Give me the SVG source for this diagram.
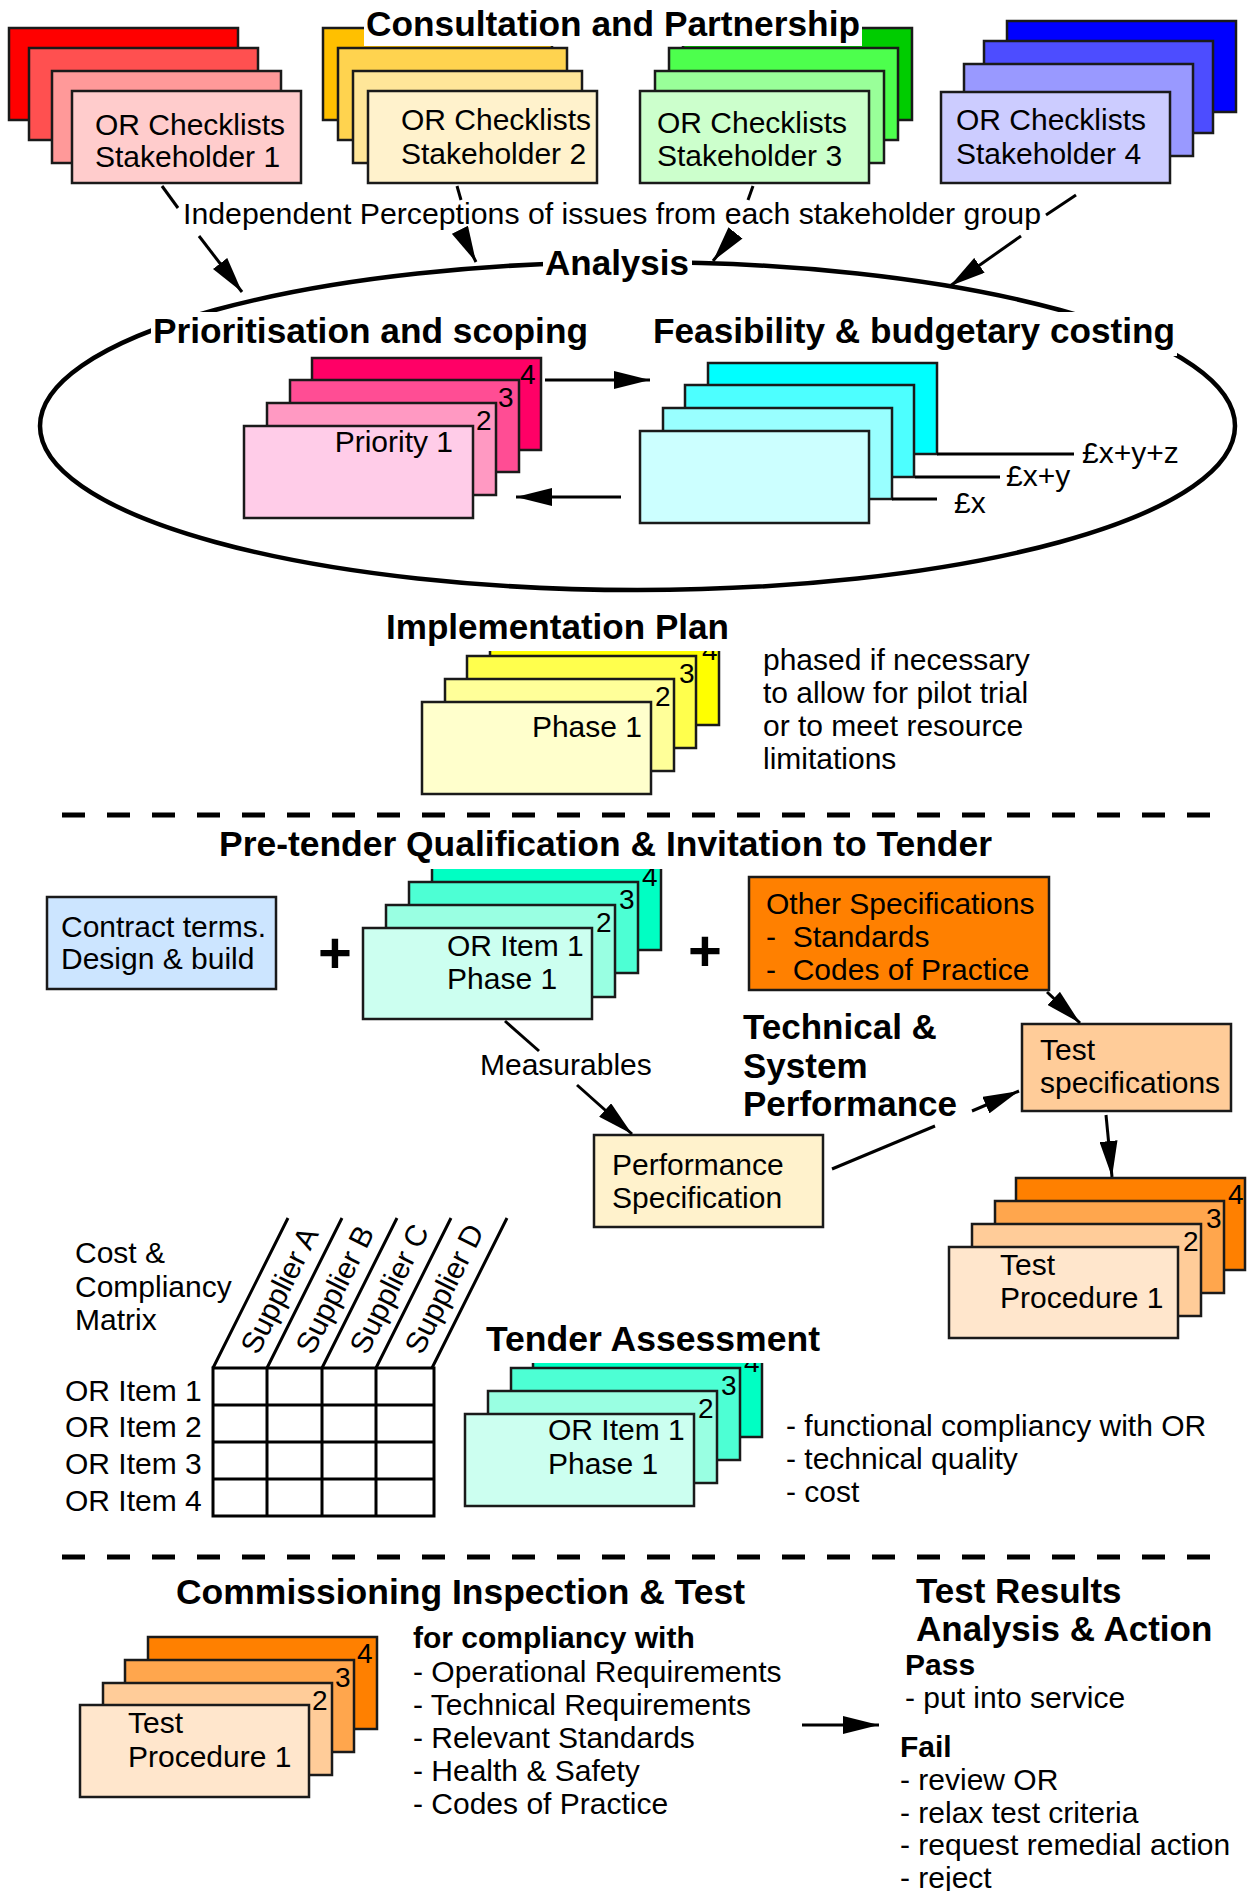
<svg xmlns="http://www.w3.org/2000/svg" width="1249" height="1891" viewBox="0 0 1249 1891">
<style>
.b{stroke:#1a1a1a;stroke-width:2.5}
text{font-family:"Liberation Sans",Arial,Helvetica,sans-serif;font-size:30px;fill:#000}
.n{font-size:28px}
.h{font-weight:bold;font-size:35px}
.hb{font-weight:bold;font-size:30px}
.plus{font-weight:bold;font-size:58px}
.c{stroke:#000;stroke-width:3;fill:none}
.bg{fill:#fff}
.dash{stroke:#000;stroke-width:5;stroke-dasharray:23 22;fill:none}
.grid{stroke:#000;stroke-width:3;fill:none}
</style>
<defs>
<marker id="ah" markerUnits="userSpaceOnUse" markerWidth="38" markerHeight="18" refX="36" refY="9" orient="auto"><path d="M0,0 L36,9 L0,18 z" fill="#000"/></marker>
</defs>
<rect width="1249" height="1891" fill="#fff"/>

<g id="stakeholder1">
<rect class="b" x="9" y="28" width="229" height="92" fill="#FF0000"/>
<rect class="b" x="29" y="48" width="229" height="92" fill="#FF5050"/>
<rect class="b" x="52" y="71" width="229" height="92" fill="#FF9999"/>
<rect class="b" x="72" y="91" width="229" height="92" fill="#FFCCCC"/>
<text x="95" y="135">OR Checklists</text>
<text x="95" y="167">Stakeholder 1</text>
</g>
<g id="stakeholder2">
<rect class="b" x="323" y="28" width="229" height="92" fill="#FFC000"/>
<rect class="b" x="338" y="48" width="229" height="92" fill="#FFD34F"/>
<rect class="b" x="353" y="71" width="229" height="92" fill="#FFE699"/>
<rect class="b" x="368" y="91" width="229" height="92" fill="#FFF2CC"/>
<text x="401" y="130">OR Checklists</text>
<text x="401" y="164">Stakeholder 2</text>
</g>
<g id="stakeholder3">
<rect class="b" x="683" y="28" width="229" height="92" fill="#00CC00"/>
<rect class="b" x="669" y="48" width="229" height="92" fill="#4DFF4D"/>
<rect class="b" x="655" y="71" width="229" height="92" fill="#99FF99"/>
<rect class="b" x="640" y="91" width="229" height="92" fill="#CCFFCC"/>
<text x="657" y="133">OR Checklists</text>
<text x="657" y="166">Stakeholder 3</text>
</g>
<g id="stakeholder4">
<rect class="b" x="1007" y="21" width="229" height="91" fill="#0000FF"/>
<rect class="b" x="984" y="41" width="229" height="92" fill="#4D4DFF"/>
<rect class="b" x="964" y="64" width="229" height="92" fill="#9999FF"/>
<rect class="b" x="941" y="92" width="229" height="91" fill="#CCCCFF"/>
<text x="956" y="130">OR Checklists</text>
<text x="956" y="164">Stakeholder 4</text>
</g>

<g id="analysis-ellipse">
<ellipse cx="637.5" cy="426" rx="597.5" ry="164" fill="none" stroke="#000" stroke-width="4.5"/>
</g>

<g id="priority-stack">
<rect class="b" x="312" y="358" width="229" height="92" fill="#FF0066"/>
<rect class="b" x="290" y="380" width="229" height="92" fill="#FF4D94"/>
<rect class="b" x="267" y="403" width="229" height="92" fill="#FF99C2"/>
<rect class="b" x="244" y="426" width="229" height="92" fill="#FFCCE8"/>
<text class="n" x="520" y="384">4</text>
<text class="n" x="498" y="407">3</text>
<text class="n" x="476" y="430">2</text>
<text x="453" y="452" text-anchor="end">Priority 1</text>
</g>

<g id="feasibility-stack">
<rect class="b" x="708" y="363" width="229" height="91" fill="#00FFFF"/>
<rect class="b" x="685" y="385" width="229" height="92" fill="#4DFFFF"/>
<rect class="b" x="663" y="408" width="229" height="91" fill="#99FFFF"/>
<rect class="b" x="640" y="431" width="229" height="92" fill="#CCFFFF"/>
<text x="1082" y="463">£x+y+z</text>
<text x="1006" y="486">£x+y</text>
<text x="954" y="513">£x</text>
</g>

<g id="implementation-stack">
<rect class="b" x="490" y="633" width="229" height="92" fill="#FFFF00"/>
<rect class="b" x="467" y="656" width="229" height="92" fill="#FFFF4D"/>
<rect class="b" x="445" y="679" width="229" height="92" fill="#FFFF99"/>
<rect class="b" x="422" y="702" width="229" height="92" fill="#FFFFCC"/>
<text class="n" x="702" y="660">4</text>
<text class="n" x="679" y="683">3</text>
<text class="n" x="655" y="706">2</text>
<text x="642" y="737" text-anchor="end">Phase 1</text>
</g>
<g id="implementation-note">
<text x="763" y="670">phased if necessary</text>
<text x="763" y="703">to allow for pilot trial</text>
<text x="763" y="736">or to meet resource</text>
<text x="763" y="769">limitations</text>
</g>

<g id="contract-terms">
<rect class="b" x="47" y="897" width="229" height="92" fill="#CCE5FF"/>
<text x="61" y="937">Contract terms.</text>
<text x="61" y="969">Design &amp; build</text>
</g>
<g id="plus1"><text class="plus" x="335" y="973" text-anchor="middle">+</text></g>
<g id="or-item-stack">
<rect class="b" x="432" y="859" width="229" height="91" fill="#00FFC3"/>
<rect class="b" x="409" y="882" width="229" height="91" fill="#4DFFD4"/>
<rect class="b" x="386" y="905" width="229" height="92" fill="#99FFE2"/>
<rect class="b" x="363" y="928" width="229" height="91" fill="#CCFFF0"/>
<text class="n" x="642" y="886">4</text>
<text class="n" x="619" y="909">3</text>
<text class="n" x="596" y="932">2</text>
<text x="447" y="956">OR Item 1</text>
<text x="447" y="989">Phase 1</text>
</g>
<g id="plus2"><text class="plus" x="705" y="971" text-anchor="middle">+</text></g>
<g id="other-specs">
<rect class="b" x="749" y="877" width="300" height="113" fill="#FF8000"/>
<text x="766" y="914">Other Specifications</text>
<text x="766" y="947" xml:space="preserve">-  Standards</text>
<text x="766" y="980" xml:space="preserve">-  Codes of Practice</text>
</g>
<g id="test-specs">
<rect class="b" x="1022" y="1024" width="209" height="87" fill="#FFCC99"/>
<text x="1040" y="1060">Test</text>
<text x="1040" y="1093">specifications</text>
</g>
<g id="tech-label">
<text class="h" x="743" y="1039">Technical &amp;</text>
<text class="h" x="743" y="1078">System</text>
<text class="h" x="743" y="1116">Performance</text>
</g>
<g id="measurables-label"><text x="480" y="1075">Measurables</text></g>
<g id="performance-spec">
<rect class="b" x="594" y="1135" width="229" height="92" fill="#FFF2CC"/>
<text x="612" y="1175">Performance</text>
<text x="612" y="1208">Specification</text>
</g>
<g id="test-procedure-stack">
<rect class="b" x="1016" y="1178" width="229" height="92" fill="#FF8000"/>
<rect class="b" x="995" y="1201" width="229" height="92" fill="#FFA64D"/>
<rect class="b" x="972" y="1224" width="229" height="92" fill="#FFCC99"/>
<rect class="b" x="949" y="1247" width="229" height="91" fill="#FFE6CC"/>
<text class="n" x="1228" y="1204">4</text>
<text class="n" x="1206" y="1228">3</text>
<text class="n" x="1183" y="1251">2</text>
<text x="1000" y="1275">Test</text>
<text x="1000" y="1308">Procedure 1</text>
</g>

<g id="matrix">
<text x="75" y="1263">Cost &amp;</text>
<text x="75" y="1297">Compliancy</text>
<text x="75" y="1330">Matrix</text>
<path class="grid" d="M213,1368 H434 V1516 H213 Z M213,1405 H434 M213,1442 H434 M213,1479 H434 M267,1368 V1516 M322,1368 V1516 M376,1368 V1516"/>
<path class="grid" d="M213,1368 L288,1218 M267,1368 L342,1218 M322,1368 L397,1218 M376,1368 L451,1218 M432,1368 L507,1218"/>
<text x="258" y="1356" transform="rotate(-63.4 258 1356)">Supplier A</text>
<text x="313" y="1356" transform="rotate(-63.4 313 1356)">Supplier B</text>
<text x="367" y="1356" transform="rotate(-63.4 367 1356)">Supplier C</text>
<text x="422" y="1356" transform="rotate(-63.4 422 1356)">Supplier D</text>
<text x="65" y="1401">OR Item 1</text>
<text x="65" y="1437">OR Item 2</text>
<text x="65" y="1474">OR Item 3</text>
<text x="65" y="1511">OR Item 4</text>
</g>

<g id="tender-stack">
<rect class="b" x="533" y="1345" width="229" height="92" fill="#00FFC3"/>
<rect class="b" x="511" y="1368" width="229" height="92" fill="#4DFFD4"/>
<rect class="b" x="488" y="1391" width="229" height="92" fill="#99FFE2"/>
<rect class="b" x="465" y="1414" width="229" height="92" fill="#CCFFF0"/>
<text class="n" x="744" y="1372">4</text>
<text class="n" x="721" y="1395">3</text>
<text class="n" x="698" y="1418">2</text>
<text x="548" y="1440">OR Item 1</text>
<text x="548" y="1474">Phase 1</text>
</g>
<g id="tender-criteria">
<text x="786" y="1436">- functional compliancy with OR</text>
<text x="786" y="1469">- technical quality</text>
<text x="786" y="1502">- cost</text>
</g>

<g id="commissioning-stack">
<rect class="b" x="148" y="1637" width="229" height="92" fill="#FF8000"/>
<rect class="b" x="125" y="1660" width="229" height="92" fill="#FFA64D"/>
<rect class="b" x="103" y="1683" width="229" height="92" fill="#FFCC99"/>
<rect class="b" x="80" y="1705" width="229" height="92" fill="#FFE6CC"/>
<text class="n" x="357" y="1663">4</text>
<text class="n" x="335" y="1687">3</text>
<text class="n" x="312" y="1710">2</text>
<text x="128" y="1733">Test</text>
<text x="128" y="1767">Procedure 1</text>
</g>
<g id="compliancy-list">
<text class="hb" x="413" y="1648">for compliancy with</text>
<text x="413" y="1682">- Operational Requirements</text>
<text x="413" y="1715">- Technical Requirements</text>
<text x="413" y="1748">- Relevant Standards</text>
<text x="413" y="1781">- Health &amp; Safety</text>
<text x="413" y="1814">- Codes of Practice</text>
</g>
<g id="test-results">
<text class="h" x="916" y="1603">Test Results</text>
<text class="h" x="916" y="1641">Analysis &amp; Action</text>
<text class="hb" x="905" y="1675">Pass</text>
<text x="905" y="1708">- put into service</text>
<text class="hb" x="900" y="1757">Fail</text>
<text x="900" y="1790">- review OR</text>
<text x="900" y="1823">- relax test criteria</text>
<text x="900" y="1855">- request remedial action</text>
<text x="900" y="1888">- reject</text>
</g>

<g id="connectors">
<line class="c" x1="162" y1="186" x2="178" y2="208"/>
<line class="c" x1="199" y1="236" x2="242" y2="292" marker-end="url(#ah)"/>
<line class="c" x1="457" y1="186" x2="461" y2="200"/>
<line class="c" x1="463" y1="236" x2="476" y2="262" marker-end="url(#ah)"/>
<line class="c" x1="753" y1="186" x2="748" y2="200"/>
<line class="c" x1="733" y1="236" x2="713" y2="261" marker-end="url(#ah)"/>
<line class="c" x1="1076" y1="195" x2="1046" y2="215"/>
<line class="c" x1="1021" y1="236" x2="950" y2="286" marker-end="url(#ah)"/>
<line class="c" x1="545" y1="380" x2="650" y2="380" marker-end="url(#ah)"/>
<line class="c" x1="621" y1="497" x2="516" y2="497" marker-end="url(#ah)"/>
<line class="c" x1="937" y1="454" x2="1074" y2="454"/>
<line class="c" x1="915" y1="477" x2="1000" y2="477"/>
<line class="c" x1="892" y1="499" x2="937" y2="499"/>
<line class="c" x1="505" y1="1021" x2="539" y2="1051"/>
<line class="c" x1="577" y1="1085" x2="632" y2="1134" marker-end="url(#ah)"/>
<line class="c" x1="1047" y1="992" x2="1080" y2="1023" marker-end="url(#ah)"/>
<line class="c" x1="832" y1="1169" x2="935" y2="1126"/>
<line class="c" x1="972" y1="1111" x2="1019" y2="1091" marker-end="url(#ah)"/>
<line class="c" x1="1106" y1="1115" x2="1112" y2="1177" marker-end="url(#ah)"/>
<line class="c" x1="802" y1="1725" x2="879" y2="1725" marker-end="url(#ah)"/>
</g>

<g id="separators">
<line class="dash" x1="62" y1="815" x2="1226" y2="815"/>
<line class="dash" x1="62" y1="1557" x2="1226" y2="1557"/>
</g>

<g id="headings">
<rect class="bg" x="364" y="4" width="498" height="42"/>
<text class="h" x="366" y="36" textLength="494" lengthAdjust="spacingAndGlyphs">Consultation and Partnership</text>
<text x="183" y="224" textLength="858" lengthAdjust="spacingAndGlyphs">Independent Perceptions of issues from each stakeholder group</text>
<rect class="bg" x="543" y="247" width="149" height="36"/>
<text class="h" x="545" y="275" textLength="144" lengthAdjust="spacingAndGlyphs">Analysis</text>
<rect class="bg" x="151" y="312" width="439" height="40"/>
<text class="h" x="153" y="343" textLength="435" lengthAdjust="spacingAndGlyphs">Prioritisation and scoping</text>
<rect class="bg" x="651" y="312" width="526" height="44"/>
<text class="h" x="653" y="343" textLength="522" lengthAdjust="spacingAndGlyphs">Feasibility &amp; budgetary costing</text>
<rect class="bg" x="384" y="610" width="347" height="41"/>
<text class="h" x="386" y="639" textLength="343" lengthAdjust="spacingAndGlyphs">Implementation Plan</text>
<rect class="bg" x="217" y="828" width="777" height="41"/>
<text class="h" x="219" y="856" textLength="773" lengthAdjust="spacingAndGlyphs">Pre-tender Qualification &amp; Invitation to Tender</text>
<rect class="bg" x="484" y="1322" width="338" height="41"/>
<text class="h" x="486" y="1351" textLength="334" lengthAdjust="spacingAndGlyphs">Tender Assessment</text>
<text class="h" x="176" y="1604" textLength="569" lengthAdjust="spacingAndGlyphs">Commissioning Inspection &amp; Test</text>
</g>
</svg>
